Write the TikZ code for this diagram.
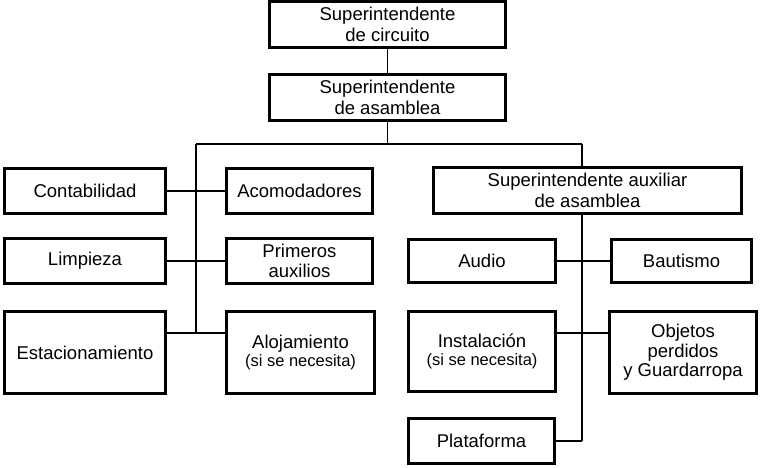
\documentclass[tikz,border=0pt]{standalone}
\usepackage{fontspec}
\setmainfont{Liberation Sans}
\begin{document}
\begin{tikzpicture}
% Organigrama drawn at pixel scale (1px = 1pt, y downwards)
\def\pxsz{1pt}
\providecommand{\orgBoxLineWidth}{3pt}
\providecommand{\orgLinkLineWidth}{1.8pt}
\providecommand{\orgThinLineWidth}{1.1pt}
\providecommand{\orgFont}{\fontsize{18.5}{20.5}\selectfont}
\providecommand{\orgSmall}{\fontsize{16.5}{18}\selectfont}
\tikzset{
  orgbox/.style={draw, line width=\orgBoxLineWidth, align=center, inner sep=0pt, font=\orgFont},
  orglink/.style={draw, line width=\orgLinkLineWidth},
  orgthin/.style={draw, line width=\orgThinLineWidth}
}
\begin{scope}[x=\pxsz, y=-\pxsz]
  \useasboundingbox (0,0) rectangle (761,467);
  % Top of the chart
  \node[orgbox, minimum width=236pt, minimum height=46pt] (circ) at (387.5,24.5) {Superintendente\\de circuito};
  \node[orgbox, minimum width=236pt, minimum height=46pt] (asam) at (387.5,97.5) {Superintendente\\de asamblea};
  % Left column pair
  \node[orgbox, minimum width=161pt, minimum height=45pt] (cont) at (85,191) {Contabilidad};
  \node[orgbox, minimum width=161pt, minimum height=45pt] (limp) at (85,261) {Limpieza};
  \node[orgbox, minimum width=161pt, minimum height=82pt] (est) at (85,352.5) {Estacionamiento};
  \node[orgbox, minimum width=146pt, minimum height=45pt] (acom) at (299.5,191) {Acomodadores};
  \node[orgbox, minimum width=146pt, minimum height=45pt] (prim) at (299.5,261) {Primeros\\auxilios};
  \node[orgbox, minimum width=148pt, minimum height=82pt] (alo) at (300.5,352.5) {Alojamiento\\[-2pt]{\orgSmall (si se necesita)}};
  % Right column pair
  \node[orgbox, minimum width=308pt, minimum height=46pt] (aux) at (587.5,190.5) {Superintendente auxiliar\\de asamblea};
  \node[orgbox, minimum width=147pt, minimum height=43pt] (aud) at (482,261) {Audio};
  \node[orgbox, minimum width=147pt, minimum height=80pt] (inst) at (482,351.5) {Instalación\\[-2pt]{\orgSmall (si se necesita)}};
  \node[orgbox, minimum width=146pt, minimum height=45pt] (plat) at (481.5,441) {Plataforma};
  \node[orgbox, minimum width=140pt, minimum height=43pt] (baut) at (681.5,261) {Bautismo};
  \node[orgbox, minimum width=147pt, minimum height=82pt] (obj) at (683,352.5) {Objetos\\[-1pt]perdidos\\[-1pt]y Guardarropa};
  % Trunk and bus lines
  \coordinate (busL) at (196,144);
  \coordinate (busR) at (582,144);
  \coordinate (lowL) at (196,333);
  \coordinate (lowR) at (582,333);
  \path[orgthin] (circ) -- (asam);
  \path[orgthin] (asam) -- (asam |- busL);
  \path[orglink] (busL) -- (busR);
  \path[orglink] (busL) -- (lowL);
  \path[orgthin] (busR) -- (busR |- aux.north);
  \path[orgthin] (busR |- aux.south) -- (busR |- plat.east);
  \path[orglink] (busR |- plat.east) -- (plat.east);
  % Side links
  \path[orglink] (cont) -- (acom);
  \path[orglink] (limp) -- (prim);
  \path[orglink] (est.east |- lowL) -- (alo.west |- lowL);
  \path[orglink] (aud) -- (baut);
  \path[orglink] (inst.east |- lowR) -- (obj.west |- lowR);
\end{scope}
\end{tikzpicture}
\end{document}
